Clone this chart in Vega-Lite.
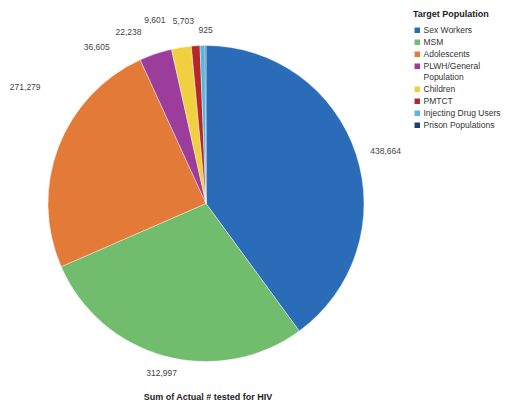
{
  "$schema": "https://vega.github.io/schema/vega-lite/v6.json",
  "width": 412,
  "height": 407,
  "autosize": {"type": "none"},
  "padding": {"left": 0, "top": 0, "right": 99, "bottom": 0},
  "background": "white",
  "config": {"view": {"stroke": null}, "font": "Liberation Sans"},
  "title": {"text": "Sum of Actual # tested for HIV", "orient": "bottom", "offset": -14, "fontSize": 9, "fontWeight": "bold", "color": "#222", "dx": 2},
  "data": {"values": [
    {"pop": "Sex Workers", "value": 438664},
    {"pop": "MSM", "value": 312997},
    {"pop": "Adolescents", "value": 271279},
    {"pop": "PLWH/General Population", "value": 36605},
    {"pop": "Children", "value": 22238},
    {"pop": "PMTCT", "value": 9601},
    {"pop": "Injecting Drug Users", "value": 5703},
    {"pop": "Prison Populations", "value": 925}
  ]},
  "encoding": {
    "theta": {"field": "value", "type": "quantitative", "stack": true},
    "order": {"field": "value", "type": "quantitative", "sort": "descending"}
  },
  "layer": [
    {
      "mark": {"type": "arc", "outerRadius": 158, "stroke": "white", "strokeWidth": 0.4},
      "encoding": {
        "color": {
          "field": "pop", "type": "nominal",
          "sort": ["Sex Workers", "MSM", "Adolescents", "PLWH/General Population", "Children", "PMTCT", "Injecting Drug Users", "Prison Populations"],
          "scale": {
            "domain": ["Sex Workers", "MSM", "Adolescents", "PLWH/General Population", "Children", "PMTCT", "Injecting Drug Users", "Prison Populations"],
            "range": ["#2b6cb8", "#71bd6d", "#e47a38", "#9c3d9c", "#f0d040", "#b5282a", "#54b8e0", "#1e3f75"]
          },
          "legend": {
            "title": "Target Population",
            "orient": "none",
            "legendX": 413,
            "legendY": 10,
            "titleFontSize": 9,
            "titleFontWeight": "bold",
            "titleColor": "#222",
            "titlePadding": 7,
            "labelFontSize": 8.5,
            "labelColor": "#333",
            "labelOffset": 2,
            "symbolType": "square",
            "symbolSize": 30,
            "symbolStrokeWidth": 0,
            "rowPadding": 3,
            "labelExpr": "datum.label == 'PLWH/General Population' ? ['PLWH/General', 'Population'] : datum.label"
          }
        }
      }
    },
    {
      "mark": {"type": "text", "radius": 170, "dx": 18, "dy": 0, "fontSize": 8.5, "color": "#444"},
      "encoding": {"detail": {"field": "pop"}, "text": {"condition": {"test": "datum.pop === 'Sex Workers'", "field": "value", "type": "quantitative", "format": ",d"}, "value": ""}}
    },
    {
      "mark": {"type": "text", "radius": 170, "dx": 0, "dy": 5, "fontSize": 8.5, "color": "#444"},
      "encoding": {"detail": {"field": "pop"}, "text": {"condition": {"test": "datum.pop === 'MSM'", "field": "value", "type": "quantitative", "format": ",d"}, "value": ""}}
    },
    {
      "mark": {"type": "text", "radius": 170, "dx": -22, "dy": -56, "fontSize": 8.5, "color": "#444"},
      "encoding": {"detail": {"field": "pop"}, "text": {"condition": {"test": "datum.pop === 'Adolescents'", "field": "value", "type": "quantitative", "format": ",d"}, "value": ""}}
    },
    {
      "mark": {"type": "text", "radius": 170, "dx": -55, "dy": 5, "fontSize": 8.5, "color": "#444"},
      "encoding": {"detail": {"field": "pop"}, "text": {"condition": {"test": "datum.pop === 'PLWH/General Population'", "field": "value", "type": "quantitative", "format": ",d"}, "value": ""}}
    },
    {
      "mark": {"type": "text", "radius": 170, "dx": -51, "dy": -4, "fontSize": 8.5, "color": "#444"},
      "encoding": {"detail": {"field": "pop"}, "text": {"condition": {"test": "datum.pop === 'Children'", "field": "value", "type": "quantitative", "format": ",d"}, "value": ""}}
    },
    {
      "mark": {"type": "text", "radius": 170, "dx": -40, "dy": -14, "fontSize": 8.5, "color": "#444"},
      "encoding": {"detail": {"field": "pop"}, "text": {"condition": {"test": "datum.pop === 'PMTCT'", "field": "value", "type": "quantitative", "format": ",d"}, "value": ""}}
    },
    {
      "mark": {"type": "text", "radius": 170, "dx": -19, "dy": -13, "fontSize": 8.5, "color": "#444"},
      "encoding": {"detail": {"field": "pop"}, "text": {"condition": {"test": "datum.pop === 'Injecting Drug Users'", "field": "value", "type": "quantitative", "format": ",d"}, "value": ""}}
    },
    {
      "mark": {"type": "text", "radius": 170, "dx": 0, "dy": -4, "fontSize": 8.5, "color": "#444"},
      "encoding": {"detail": {"field": "pop"}, "text": {"condition": {"test": "datum.pop === 'Prison Populations'", "field": "value", "type": "quantitative", "format": ",d"}, "value": ""}}
    }
  ]
}
